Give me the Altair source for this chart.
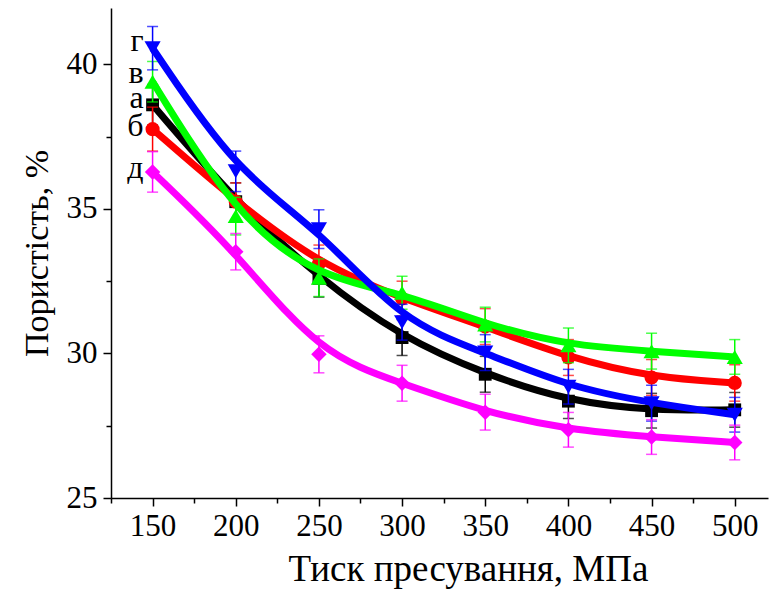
import altair as alt
import pandas as pd

pressure = [150, 200, 250, 300, 350, 400, 450, 500]
series_names = ["а", "б", "в", "г", "д"]
series_colors = ["#000000", "#FF0000", "#00FF00", "#0000FF", "#FF00FF"]
series_shapes = ["square", "circle", "triangle-up", "triangle-down", "diamond"]
series_sizes = [165, 200, 260, 260, 240]

vals_a = [38.60, 35.25, 32.60, 30.55, 29.28, 28.35, 28.02, 28.05]
vals_b = [37.76, 35.25, 33.10, 31.90, 30.93, 29.86, 29.17, 28.98]
vals_v = [39.40, 34.75, 32.62, 32.10, 31.00, 30.28, 30.08, 29.88]
vals_g = [40.56, 36.30, 34.30, 31.08, 30.03, 28.85, 28.28, 27.88]
vals_d = [36.28, 33.52, 29.97, 28.97, 27.97, 27.36, 27.11, 26.92]

err_a = [0.70, 0.65, 0.65, 0.62, 0.62, 0.60, 0.60, 0.60]
err_b = [0.76, 0.65, 0.65, 0.60, 0.62, 0.62, 0.62, 0.63]
err_v = [0.70, 0.65, 0.65, 0.57, 0.60, 0.60, 0.62, 0.60]
err_g = [0.75, 0.70, 0.67, 0.62, 0.62, 0.60, 0.62, 0.60]
err_d = [0.70, 0.63, 0.64, 0.62, 0.62, 0.60, 0.60, 0.60]

label_y = [38.72, 37.76, 39.59, 40.72, 36.30]

all_vals = [vals_a, vals_b, vals_v, vals_g, vals_d]
all_errs = [err_a, err_b, err_v, err_g, err_d]

rows = []
for name, vals, errs in zip(series_names, all_vals, all_errs):
    for p, v, e in zip(pressure, vals, errs):
        rows.append({"series": name, "p": p, "v": v, "lo": v - e, "hi": v + e})
df = pd.DataFrame(rows)

lab_df = pd.DataFrame({"series": series_names, "p": [150] * 5, "v": label_y})

FONT = "Liberation Serif"
xs = alt.Scale(domain=[125, 520], nice=False, zero=False)
ys = alt.Scale(domain=[25, 41.95], nice=False, zero=False)

base = alt.Chart(df)

major_x = alt.Axis(values=pressure, orient="bottom", title="Тиск пресування, МПа",
                   labelFont=FONT, labelFontSize=31, labelColor="black", labelPadding=5,
                   titleFont=FONT, titleFontSize=37, titleFontWeight="normal", titleColor="black",
                   titlePadding=10, titleX=357,
                   tickSize=8, tickWidth=1.5, tickColor="black",
                   domainColor="black", domainWidth=1.5, grid=False, labelFlush=False)
major_y = alt.Axis(values=[25, 30, 35, 40], orient="left", title="Пористість, %",
                   labelFont=FONT, labelFontSize=31, labelColor="black", labelPadding=6,
                   titleFont=FONT, titleFontSize=34, titleFontWeight="normal", titleColor="black",
                   titlePadding=12,
                   tickSize=8, tickWidth=1.5, tickColor="black",
                   domainColor="black", domainWidth=1.5, grid=False, labelFlush=False)

axis_layer = base.mark_point(opacity=0).encode(
    x=alt.X("p:Q", scale=xs, axis=major_x),
    y=alt.Y("v:Q", scale=ys, axis=major_y),
)

minor_x = alt.Axis(values=[125, 175, 225, 275, 325, 375, 425, 475], orient="bottom",
                   labels=False, title=None, tickSize=5, tickWidth=1.5, tickColor="black",
                   domain=False, grid=False)
minor_y = alt.Axis(values=[27.5, 32.5, 37.5], orient="left", labels=False, title=None,
                   tickSize=5, tickWidth=1.5, tickColor="black", domain=False, grid=False)
minor_layer = base.mark_point(opacity=0).encode(
    x=alt.X("p:Q", scale=xs, axis=minor_x),
    y=alt.Y("v:Q", scale=ys, axis=minor_y),
)

layers = [axis_layer, minor_layer]
for name, color, shape, size in zip(series_names, series_colors, series_shapes, series_sizes):
    sub = base.transform_filter(alt.datum.series == name)
    ebar = sub.mark_rule(strokeWidth=1.5, color=color).encode(
        x=alt.X("p:Q", scale=xs, axis=None),
        y=alt.Y("lo:Q", scale=ys, axis=None),
        y2="hi:Q",
    )
    cap_lo = sub.mark_tick(orient="horizontal", size=11, thickness=1.5, color=color).encode(
        x=alt.X("p:Q", scale=xs, axis=None),
        y=alt.Y("lo:Q", scale=ys, axis=None),
    )
    cap_hi = sub.mark_tick(orient="horizontal", size=11, thickness=1.5, color=color).encode(
        x=alt.X("p:Q", scale=xs, axis=None),
        y=alt.Y("hi:Q", scale=ys, axis=None),
    )
    line = sub.mark_line(strokeWidth=7, color=color, interpolate="basis").encode(
        x=alt.X("p:Q", scale=xs, axis=None),
        y=alt.Y("v:Q", scale=ys, axis=None),
    )
    pts = sub.mark_point(filled=True, opacity=1, shape=shape, size=size, color=color).encode(
        x=alt.X("p:Q", scale=xs, axis=None),
        y=alt.Y("v:Q", scale=ys, axis=None),
    )
    layers += [ebar, cap_lo, cap_hi, line, pts]

labels = alt.Chart(lab_df).mark_text(font=FONT, fontSize=32, color="black", align="right",
                                     baseline="middle", dx=-9, dy=-3).encode(
    x=alt.X("p:Q", scale=xs, axis=None),
    y=alt.Y("v:Q", scale=ys, axis=None),
    text="series:N",
)
layers.append(labels)

chart = alt.layer(*layers).resolve_axis(x="independent", y="independent").properties(
    width=657, height=490,
    autosize=alt.AutoSizeParams(type="none"),
    padding={"left": 111, "top": 8, "right": 3, "bottom": 100},
    background="white",
).configure_view(stroke=None)

chart.save("out.html", embed_options={"renderer": "svg", "actions": False})
